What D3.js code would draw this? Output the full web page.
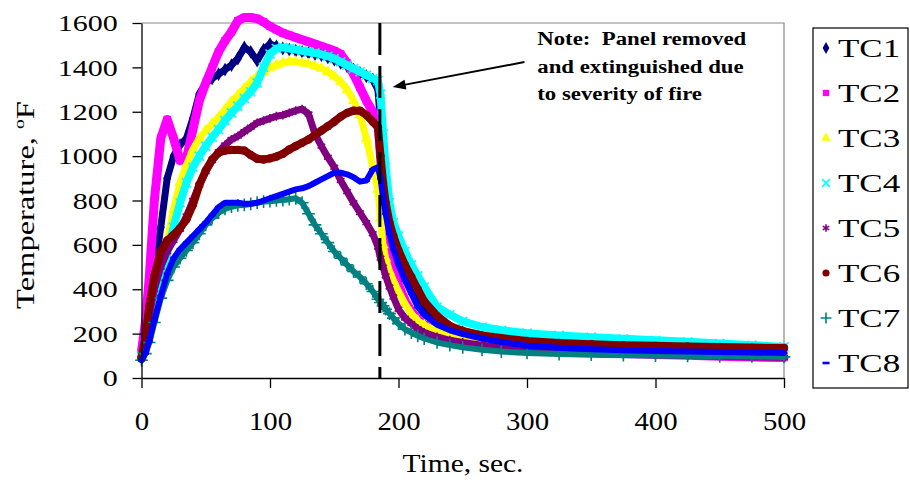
<!DOCTYPE html>
<html>
<head>
<meta charset="utf-8">
<script src="https://cdn.jsdelivr.net/npm/d3@7"></script>
<style>
    body { margin: 0; background: #fff; }
    svg { display: block; font-family: "Liberation Serif", "Times New Roman", serif; }
</style>
</head>
<body>
<svg id="chart" width="910" height="500"></svg>
<script>
// ---- data ----
const times = [0, 3, 6, 10, 15, 20, 25, 30, 35, 40, 45, 50, 55, 60, 65, 70, 75, 80, 85, 90, 95,
    100, 105, 110, 115, 120, 125, 130, 135, 140, 145, 150, 155, 160, 165, 170, 175, 180,
    184, 186, 188, 190, 193, 196, 200, 205, 210, 215, 220, 230, 240, 250, 265, 280, 300,
    325, 350, 375, 400, 425, 450, 475, 500];

const tc1 = [100, 200, 330, 480, 680, 900, 1000, 1050, 1080, 1170, 1280, 1330, 1350, 1370, 1390, 1410, 1440, 1490, 1470, 1430, 1480,
    1505, 1495, 1485, 1480, 1475, 1470, 1465, 1460, 1455, 1445, 1435, 1420, 1405, 1390, 1375, 1360, 1345,
    1300, 1150, 950, 830, 720, 640, 560, 470, 400, 350, 310, 260, 228, 205, 182, 165, 150,
    140, 133, 127, 122, 118, 114, 110, 107];
const tc2 = [120, 250, 450, 800, 1080, 1165, 1080, 980, 990, 1120, 1250, 1330, 1400, 1470, 1520, 1560, 1610, 1625, 1625, 1620, 1605,
    1585, 1570, 1555, 1545, 1535, 1525, 1515, 1505, 1495, 1485, 1475, 1460, 1420, 1370, 1310, 1250, 1200,
    1160, 1000, 820, 700, 580, 500, 420, 350, 300, 265, 240, 205, 182, 168, 150, 140, 130,
    122, 115, 110, 106, 102, 98, 95, 92];
const tc3 = [100, 150, 220, 320, 450, 620, 760, 880, 960, 1030, 1080, 1115, 1145, 1175, 1210, 1245, 1275, 1305, 1335, 1360, 1380,
    1400, 1410, 1420, 1425, 1425, 1420, 1415, 1405, 1395, 1380, 1360, 1335, 1300, 1250, 1185, 1080, 950,
    850, 720, 600, 540, 480, 440, 390, 335, 290, 258, 238, 212, 196, 184, 170, 160, 150,
    141, 134, 128, 124, 120, 116, 113, 110];
const tc4 = [100, 140, 200, 300, 420, 560, 680, 790, 880, 950, 1000, 1045, 1085, 1120, 1160, 1195, 1225, 1260, 1290, 1330, 1400,
    1460, 1485, 1490, 1485, 1480, 1475, 1470, 1465, 1458, 1450, 1440, 1425, 1410, 1395, 1380, 1365, 1350,
    1340, 1280, 1100, 950, 790, 700, 640, 570, 510, 460, 410, 320, 285, 255, 230, 215, 202,
    192, 184, 177, 170, 163, 156, 148, 140];
const tc5 = [90, 170, 280, 400, 500, 570, 620, 670, 730, 800, 870, 930, 980, 1020, 1050, 1075, 1090, 1110, 1130, 1150, 1160,
    1170, 1180, 1185, 1195, 1205, 1212, 1190, 1100, 1045, 995, 950, 890, 840, 790, 745, 700, 650,
    590, 540, 500, 460, 410, 365, 310, 270, 245, 222, 205, 185, 170, 160, 148, 138, 128,
    120, 114, 109, 105, 101, 98, 95, 93];
const tc6 = [90, 180, 320, 460, 570, 620, 645, 675, 715, 780, 870, 935, 985, 1015, 1025, 1028, 1028, 1025, 1005, 988, 985,
    990, 998, 1010, 1030, 1045, 1060, 1075, 1095, 1115, 1135, 1155, 1178, 1195, 1205, 1205, 1185, 1155,
    1130, 1000, 880, 790, 700, 640, 575, 510, 455, 400, 345, 280, 235, 212, 192, 180, 167,
    158, 152, 148, 145, 142, 140, 137, 135];
const tc7 = [80, 110, 160, 250, 360, 440, 500, 540, 575, 610, 650, 690, 720, 745, 762, 772, 778, 780, 785, 790, 795,
    797, 800, 802, 806, 810, 790, 740, 690, 650, 610, 570, 540, 510, 480, 455, 425, 390,
    355, 340, 325, 310, 290, 270, 245, 220, 205, 190, 178, 160, 148, 138, 127, 119, 113,
    108, 105, 103, 101, 100, 98, 97, 95];
const tc8 = [80, 110, 165, 260, 370, 470, 540, 580, 610, 640, 670, 700, 735, 770, 790, 790, 790, 785, 785, 790, 800,
    810, 820, 830, 840, 850, 855, 865, 880, 895, 910, 925, 925, 918, 905, 885, 890, 940,
    950, 900, 810, 740, 650, 580, 510, 440, 380, 320, 285, 240, 215, 198, 178, 162, 145,
    136, 130, 125, 122, 119, 117, 115, 113];

const seriesNames = ["TC1", "TC2", "TC3", "TC4", "TC5", "TC6", "TC7", "TC8"];
const xTicks = [0, 100, 200, 300, 400, 500];
const yTicks = [0, 200, 400, 600, 800, 1000, 1200, 1400, 1600];
const panelRemovedAt = 185.5;   // sec, dashed marker line
const noteLines = ["Note:  Panel removed", "and extinguished due", "to severity of fire"];

// ---- styling (Excel 2003 default series look) ----
const colors = ["#000080", "#FF00FF", "#FFFF00", "#00FFFF", "#800080", "#800000", "#008080", "#0000FF"];
const symbols = [d3.symbolDiamond, d3.symbolSquare, d3.symbolTriangle, d3.symbolTimes,
    d3.symbolAsterisk, d3.symbolCircle, d3.symbolPlus, null];
const strokeSymbols = new Set([3, 4, 6]);
const bandWidths = [7, 9, 7, 8, 7, 8, 6, 6];

const svg = d3.select("#chart");
const x = d3.scaleLinear().domain([0, 500]).range([141.5, 784]);
const y = d3.scaleLinear().domain([0, 1600]).range([378, 23]);

// stretched serif text, the source image is widened horizontally
function wideText(parent, str, px, py, size, sx, anchor, weight) {
    return parent.append("text")
        .attr("transform", `translate(${px},${py}) scale(${sx},1)`)
        .attr("text-anchor", anchor || "start")
        .attr("font-size", size)
        .attr("font-weight", weight || "normal")
        .style("white-space", "pre")
        .text(str);
}

// plot area frame (grey top/right)
svg.append("path")
    .attr("d", `M${x(0)},${y(1600)}H${x(500)}V${y(0)}`)
    .attr("fill", "none")
    .attr("stroke", "#888")
    .attr("stroke-width", 1.2);

// ---- series ----
const allSeries = [tc1, tc2, tc3, tc4, tc5, tc6, tc7, tc8];
const line = d3.line()
    .x(d => x(d.t))
    .y(d => y(d.v));

function drawMarker(g, i, size) {
    if (i === 7) {
        // TC8 uses a short dash
        g.append("rect").attr("x", -3.5).attr("y", -1.3).attr("width", 7).attr("height", 2.6)
            .attr("fill", colors[i]);
        return;
    }
    const p = g.append("path").attr("d", d3.symbol(symbols[i], size)());
    if (strokeSymbols.has(i)) {
        p.attr("fill", "none").attr("stroke", colors[i]).attr("stroke-width", 1.6);
    } else {
        p.attr("fill", colors[i]);
    }
}

allSeries.forEach((vals, i) => {
    const pts = vals.map((v, j) => ({ t: times[j], v: v }));
    const g = svg.append("g").attr("class", "series-" + seriesNames[i]);
    g.append("path")
        .datum(pts)
        .attr("fill", "none")
        .attr("stroke", colors[i])
        .attr("stroke-width", bandWidths[i])
        .attr("stroke-linejoin", "round")
        .attr("stroke-linecap", "round")
        .attr("d", line);
    pts.forEach(d => {
        const m = g.append("g").attr("transform", `translate(${x(d.t)},${y(d.v)})`);
        drawMarker(m, i, 55);
    });
});

// dashed line where the panel was pulled
svg.append("line")
    .attr("x1", x(panelRemovedAt)).attr("x2", x(panelRemovedAt))
    .attr("y1", y(1600)).attr("y2", y(0))
    .attr("stroke", "#000")
    .attr("stroke-width", 3)
    .attr("stroke-dasharray", "32,11");

// ---- axes ----
const yAxis = svg.append("g")
    .attr("transform", `translate(${x(0)},0)`)
    .call(d3.axisLeft(y).tickValues(yTicks).tickFormat(d3.format("d"))
        .tickSize(9).tickSizeOuter(0).tickPadding(10));
yAxis.select(".domain").attr("stroke", "#000").attr("stroke-width", 1.3);
yAxis.selectAll(".tick line").attr("stroke", "#000").attr("stroke-width", 1.3);
yAxis.selectAll(".tick text")
    .attr("font-family", "Liberation Serif, serif")
    .attr("font-size", 24)
    .attr("fill", "#000")
    .attr("transform", "scale(1.25,1)");

const xAxis = svg.append("g")
    .attr("transform", `translate(0,${y(0)})`)
    .call(d3.axisBottom(x).tickValues(xTicks).tickFormat(d3.format("d"))
        .tickSize(10).tickSizeOuter(0));
xAxis.select(".domain").attr("stroke", "#000").attr("stroke-width", 1.3);
xAxis.selectAll(".tick line").attr("stroke", "#000").attr("stroke-width", 1.3);
xAxis.selectAll(".tick text")
    .attr("font-family", "Liberation Serif, serif")
    .attr("font-size", 25)
    .attr("fill", "#000")
    .attr("y", 52).attr("dy", 0)
    .attr("transform", "scale(1.15,1)");

// axis titles
wideText(svg, "Time, sec.", 463, 472, 25, 1.18, "middle");
const yTitle = svg.append("text")
    .attr("transform", "translate(34,205) rotate(-90) scale(1.3,1)")
    .attr("text-anchor", "middle")
    .attr("font-size", 25);
yTitle.append("tspan").text("Temperature, ");
yTitle.append("tspan").attr("font-size", 15).attr("dy", -10).text("o");
yTitle.append("tspan").attr("dy", 10).text("F");

// ---- annotation ----
const noteX = x(308), noteY = y(1500);
noteLines.forEach((s, k) => {
    wideText(svg, s, noteX, noteY + k * 27.5, 19, 1.2, "start", "bold");
});
const arrowFrom = [x(298), y(1424)], arrowTo = [x(195.5), y(1311)];
svg.append("line")
    .attr("x1", arrowFrom[0]).attr("y1", arrowFrom[1])
    .attr("x2", arrowTo[0] + 10).attr("y2", arrowTo[1] - 2)
    .attr("stroke", "#000").attr("stroke-width", 2);
{
    const dx = arrowFrom[0] - arrowTo[0], dy = arrowFrom[1] - arrowTo[1];
    const len = Math.hypot(dx, dy), ux = dx / len, uy = dy / len;
    const L = 13, W = 5;
    const bx = arrowTo[0] + ux * L, by = arrowTo[1] + uy * L;
    svg.append("path")
        .attr("d", `M${arrowTo[0]},${arrowTo[1]}L${bx - uy * W},${by + ux * W}L${bx + uy * W},${by - ux * W}Z`)
        .attr("fill", "#000");
}

// ---- legend ----
const legend = svg.append("g");
legend.append("rect")
    .attr("x", 813).attr("y", 28).attr("width", 95).attr("height", 360)
    .attr("fill", "#fff").attr("stroke", "#000").attr("stroke-width", 1.2);
seriesNames.forEach((name, i) => {
    const cy = 48 + i * 45;
    const m = legend.append("g").attr("transform", `translate(826,${cy})`);
    drawMarker(m, i, 40);
    wideText(legend, name, 838, cy + 8.5, 25, 1.4, "start");
});
</script>
</body>
</html>
